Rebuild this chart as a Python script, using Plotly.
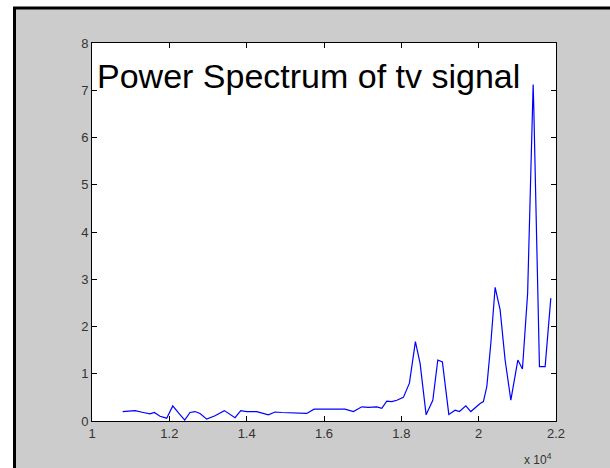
import plotly.graph_objects as go

# Frequency (Hz) and power values
freq = [10794, 11112, 11327, 11500, 11612, 11759, 11932, 12088, 12238, 12398,
        12535, 12665, 12794, 12967, 13182, 13423, 13699, 13847, 14002, 14261,
        14561, 14734, 14908, 15226, 15554, 15743, 15984, 16330, 16545, 16760,
        16977, 17148, 17365, 17494, 17624, 17753, 17883, 18053, 18209, 18364,
        18485, 18641, 18814, 18943, 19062, 19228, 19391, 19502, 19668, 19797,
        19934, 20038, 20123, 20211, 20314, 20426, 20555, 20684, 20832, 21013,
        21132, 21266, 21409, 21425, 21572, 21719, 21866]
power = [0.20, 0.22, 0.18, 0.15, 0.18, 0.10, 0.06, 0.32, 0.17, 0.02,
         0.18, 0.20, 0.16, 0.04, 0.11, 0.22, 0.07, 0.22, 0.20, 0.20,
         0.13, 0.19, 0.18, 0.17, 0.16, 0.25, 0.25, 0.25, 0.25, 0.20,
         0.30, 0.29, 0.30, 0.27, 0.42, 0.41, 0.44, 0.50, 0.80, 1.68,
         1.22, 0.13, 0.44, 1.29, 1.25, 0.14, 0.23, 0.20, 0.32, 0.20,
         0.30, 0.37, 0.41, 0.73, 1.64, 2.83, 2.35, 1.29, 0.44, 1.29,
         1.10, 2.70, 7.12, 6.65, 1.15, 1.15, 2.60]

x_tickvals = [10000, 12000, 14000, 16000, 18000, 20000, 22000]
x_ticktext = ["1", "1.2", "1.4", "1.6", "1.8", "2", "2.2"]
y_tickvals = [0, 1, 2, 3, 4, 5, 6, 7, 8]
y_ticktext = ["0", "1", "2", "3", "4", "5", "6", "7", "8"]

W, H = 610, 468
L, R, T, B = 92, 54, 43, 47
PW, PH = W - L - R, H - T - B


def px_x(p):
    return (p - L) / PW


def px_y(p):
    return (H - B - p) / PH


fig = go.Figure()
fig.add_trace(go.Scatter(x=freq, y=power, mode="lines",
                         line=dict(color="#0000ff", width=1.2),
                         showlegend=False, hoverinfo="skip"))

axis_common = dict(showgrid=False, zeroline=False, showline=True,
                   linecolor="black", linewidth=1, mirror="ticks",
                   ticks="inside", ticklen=5, tickcolor="black", tickwidth=1,
                   tickfont=dict(family="Liberation Sans, Arial", size=13, color="#333333"))

fig.update_xaxes(range=[10000, 22000], tickmode="array",
                 tickvals=x_tickvals, ticktext=x_ticktext, **axis_common)
fig.update_yaxes(range=[0, 8], tickmode="array",
                 tickvals=y_tickvals, ticktext=y_ticktext, **axis_common)

shapes = [
    # grey figure window with black frame on top/left
    dict(type="rect", xref="paper", yref="paper",
         x0=px_x(14.5), x1=px_x(800), y0=px_y(800), y1=px_y(8),
         fillcolor="#cccccc", line=dict(color="black", width=3), layer="below"),
    # white plot area
    dict(type="rect", xref="paper", yref="paper", x0=0, x1=1, y0=0, y1=1,
         fillcolor="white", line=dict(width=0), layer="below"),
]

annotations = [
    dict(text="Power Spectrum of tv signal", xref="paper", yref="paper",
         x=px_x(95), y=px_y(76), xanchor="left", yanchor="middle",
         showarrow=False,
         font=dict(family="Liberation Sans, Arial", size=34, color="black")),
    dict(text="x 10<sup>4</sup>", xref="paper", yref="paper",
         x=px_x(554), y=px_y(459), xanchor="right", yanchor="middle",
         showarrow=False,
         font=dict(family="Liberation Sans, Arial", size=12, color="#333333")),
]

fig.update_layout(width=W, height=H,
                  margin=dict(l=L, r=R, t=T, b=B, pad=0),
                  paper_bgcolor="white", plot_bgcolor="white",
                  shapes=shapes, annotations=annotations,
                  showlegend=False)

fig.write_html("out.html")
